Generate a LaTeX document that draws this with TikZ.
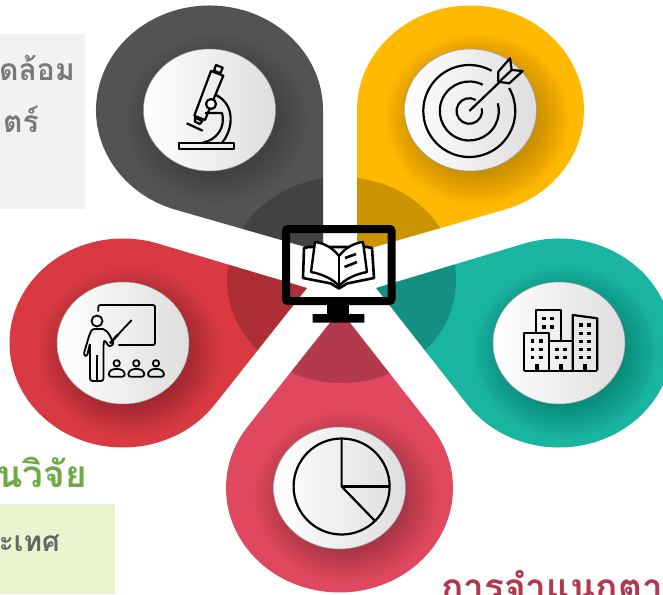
\documentclass[tikz,border=0pt]{standalone}
\usepackage{fontspec}
\newfontfamily\thaifont[Script=Thai]{Loma}
\definecolor{cgray}{HTML}{535353}
\definecolor{cyellow}{HTML}{FFB900}
\definecolor{cteal}{HTML}{1AB5A0}
\definecolor{cred}{HTML}{D93A42}
\definecolor{cpink}{HTML}{E0485F}
\definecolor{cbox}{HTML}{E9F5CE}
\definecolor{tgray}{HTML}{7A7A7A}
\definecolor{tgreen}{HTML}{6EAB45}
\definecolor{tbrown}{HTML}{666666}
\definecolor{tmaroon}{HTML}{B0384F}
\tikzset{
  icon/.style={line width=2.2pt,black,line join=round},
  thaitext/.style={inner sep=0pt,anchor=base east,font=\thaifont\bfseries\fontsize{30}{34}\selectfont},
}
\newcommand{\petal}[5]{%
  \pgfmathsetmacro{\ux}{(#3-#1)/113.5}%
  \pgfmathsetmacro{\uy}{(#4-#2)/104.5}%
  \pgfmathsetmacro{\dd}{sqrt(\ux*\ux+\uy*\uy)}%
  \pgfmathsetmacro{\ph}{atan2(\uy,\ux)}%
  \pgfmathsetmacro{\al}{acos(1/\dd)}%
  \pgfmathsetmacro{\tone}{\ph+\al}%
  \pgfmathsetmacro{\dl}{360-2*\al}%
  \def\petalpath{(#3,#4) -- ({#1+113.5*cos(\tone)},{#2+104.5*sin(\tone)}) arc[start angle=\tone,delta angle=\dl,x radius=113.5,y radius=104.5] -- cycle}%
  \fill[#5] \petalpath;
  \begin{scope}
    \clip \petalpath;
    \fill[black,opacity=.2] (341.5,280) ellipse[x radius=114.5,y radius=103];
    \foreach \i in {1,...,18}{
      \fill[black,opacity=.013] ({#1+7},{#2+9}) ellipse[x radius={58+\i*1.9},y radius={53+\i*1.8}];
    }
  \end{scope}
  \shade[left color=white,right color=black!13,draw=black!40,line width=.5pt] (#1,#2) ellipse[x radius=66,y radius=61];
}
\begin{document}
\begin{tikzpicture}[x=1pt,y=-1pt]
\useasboundingbox (0,0) rectangle (663,594);
\clip (0,0) rectangle (663,594);
\fill[white] (0,0) rectangle (663,594);
\fill[black!5] (0,34) rectangle (85,209);
\fill[cbox] (0,504) rectangle (115,594);
\node[thaitext,text=tgray] (t1) at (75,81) {ดล้อม};
\node[thaitext,text=tgray] (t2) at (39,132) {ตร์};
\node[thaitext,text=tgreen,font=\thaifont\bfseries\fontsize{37}{40}\selectfont] (t3) at (87,487) {นวิจัย};
\node[thaitext,text=tbrown,font=\thaifont\bfseries\fontsize{28}{32}\selectfont] (t4) at (60,551) {ะเทศ};
\node[thaitext,text=tmaroon,anchor=base west,font=\thaifont\bfseries\fontsize{37}{40}\selectfont] (t5) at (441,600) {การจำแนกตาม};

\petal{209.5}{110}{323}{252}{cgray}
\petal{470.5}{110}{357}{252}{cyellow}
\petal{559}{343}{376}{288}{cteal}
\petal{123}{343}{307}{288}{cred}
\petal{339.5}{488}{340}{310}{cpink}

% monitor
\draw[line width=8pt,rounded corners=2pt] (286,229) rectangle (391.5,301);
\fill (327.3,304) rectangle (349.3,315);
\fill[rounded corners=.5pt] (312.7,314) rectangle (364.3,322.7);

% book
\begin{scope}[line join=round]
\filldraw[fill=white,draw=black,line width=2.6pt] (309,247) -- (304,248) -- (303,278) -- (331,283.5) -- (339,288.5) -- (347,283.5) -- (374,278) -- (372,248) -- (367,247) -- cycle;
\filldraw[fill=white,draw=black,line width=2.4pt] (339,256) .. controls (333,248) and (324,243) .. (315,242) -- (311,272) .. controls (322,274) and (333,279) .. (339,286) .. controls (345,279) and (356,274) .. (367,272) -- (363,242) .. controls (354,243) and (345,248) .. (339,256) -- cycle;
\draw[line width=2.2pt] (339,256) -- (339,286);
\draw[line width=2.6pt] (345,258) -- (356,254) (344.5,267) -- (357,262);
\end{scope}

% microscope
\draw[icon,line width=1.8pt] (179,142.7) rectangle (234.3,149);
\draw[icon] (211,71) -- (223.3,75.7) -- (205,120) -- (194.3,115.7) -- cycle;
\draw[icon] (216,65) -- (222.7,67.7) -- (220.3,73.3) -- (214,70.7) -- cycle;
\draw[icon] (195,117.7) -- (202.3,121) -- (200,124) -- (195,121.7) -- cycle;
\draw[icon] (216,95) .. controls (236,105) and (233,130) .. (222,142.7);
\draw[icon] (205,113) -- (222,113) .. controls (226,128) and (216,140) .. (203,142.7);
\filldraw[icon,fill=white] (211,104) circle[radius=5];
\draw[icon] (186.7,123.3) -- (202.7,130.7);

% target
\begin{scope}[icon]
\draw (469.3,111) ++(-61:46) arc[start angle=-61,delta angle=-329,radius=46];
\draw (469.3,111) ++(-63:29.5) arc[start angle=-63,delta angle=-312,radius=29.5];
\draw (469.3,111) ++(-60:12.8) arc[start angle=-60,delta angle=-312,radius=12.8];
\draw (469.3,111) -- (500,81.7);
\draw (498.3,71.7) -- (510,58.3) -- (511.7,70) -- (522.7,71) -- (509.3,83.3) -- (498.3,81.7) -- cycle;
\draw (511.7,70) -- (499.3,81.7);
\end{scope}

% buildings
\begin{scope}[icon]
\draw (535.7,332.7) -- (535.7,310) -- (560.7,310) -- (560.7,341.3);
\draw (524.3,370.7) -- (524.3,332.7) -- (549.3,332.7) -- (549.3,370.7);
\draw (549.3,341.3) -- (572.7,341.3);
\draw (572.7,370.7) -- (572.7,315) -- (597.3,318.3) -- (597.3,370.7);
\draw (524.3,370.7) -- (597.3,370.7);
\end{scope}
\foreach \x/\y in {544/318.3,552/318.3,544/326.7,552/326.7,
  532.3/341,540.7/341,532.3/349.3,540.7/349.3,532.3/357.3,540.7/357.3,
  556.7/349.3,565/349.3,556.7/357.3,565/357.3,
  580.7/325,589/325,580.7/333.3,589/333.3,580.7/341.3,589/341.3,580.7/349.3,589/349.3,580.7/357.3,589/357.3}{
  \fill ({\x-1.8},{\y-1.8}) rectangle ({\x+1.8},{\y+1.8});
}
\foreach \x in {537,561,585}{ \fill ({\x-1.8},363.5) rectangle ({\x+1.8},370.7); }

% teacher
\begin{scope}[icon,line width=1.8pt]
\draw[rounded corners=2pt] (98.3,311.7) -- (98.3,305) -- (155,305) -- (155,345) -- (118.3,345);
\draw (97,321) circle[radius=5.5];
\draw (131.7,320) -- (118.3,334.3);
\draw[line width=2.6pt] (118.3,334.3) -- (110,343.3);
\draw[rounded corners=2.5pt] (103,329) -- (92,329) -- (89,336) -- (83.5,355) -- (87,356.5) -- (90,343) -- (90,381) -- (103.5,381) -- (103.5,343) -- (105,340) -- (109,347) -- (114,344) -- (108,332) -- (103,329);
\draw (96.7,355) -- (96.7,381);
\foreach \c in {116.7,136.3,156}{
  \draw (\c,363.3) circle[radius=3.2];
  \draw[rounded corners=2.5pt] ({\c-8},376.7) -- ({\c-8},372) -- ({\c-4},369) -- ({\c+4},369) -- ({\c+8},372) -- ({\c+8},376.7) -- cycle;
}
\end{scope}

% pie
\begin{scope}[icon]
\draw (341.6,486.5) circle[radius=48];
\draw (341.6,438.5) -- (341.6,486.5) -- (375,521);
\draw (341.6,486.5) -- (389.6,486.5);
\end{scope}
\end{tikzpicture}
\end{document}
